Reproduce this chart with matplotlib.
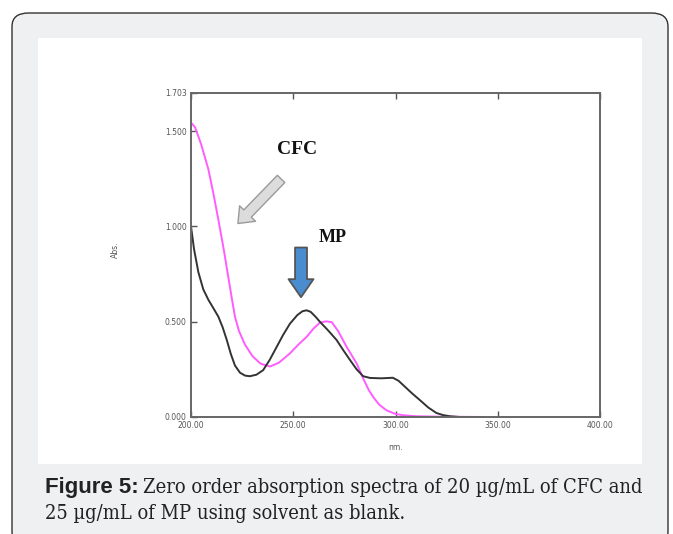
import numpy as np
import matplotlib
matplotlib.use("Agg")
from matplotlib import pyplot as plt
from matplotlib.patches import FancyBboxPatch, Rectangle, FancyArrowPatch

# CFC spectrum (magenta)
cfc_nm = [200.0, 202.0, 205.0, 208.5, 211.0, 213.3, 216.0, 218.2, 220.0, 221.5, 223.5,
          226.4, 230.0, 234.0, 238.6, 243.0, 248.4, 252.5, 256.5, 260.0, 263.0, 266.0,
          268.8, 272.0, 276.1, 281.0, 284.2, 287.0, 289.1, 292.0, 295.6, 300.0, 303.8,
          310.0, 320.0, 343.0]
cfc_abs = [1.545, 1.52, 1.43, 1.30, 1.17, 1.04, 0.88, 0.737, 0.62, 0.526, 0.45,
           0.38, 0.32, 0.28, 0.265, 0.285, 0.334, 0.38, 0.42, 0.465, 0.495, 0.502,
           0.498, 0.45, 0.368, 0.281, 0.202, 0.14, 0.105, 0.065, 0.035, 0.016, 0.009,
           0.004, 0.002, 0.0]

# MP spectrum (black)
mp_nm = [200.0, 201.5, 203.6, 206.0, 208.5, 211.0, 213.4, 215.5, 217.5, 219.5, 221.5,
         224.0, 226.5, 228.8, 232.0, 235.3, 238.5, 241.9, 245.0, 248.4, 252.0, 254.5,
         256.5, 258.5, 261.0, 263.0, 267.0, 271.2, 274.5, 277.7, 281.0, 284.2, 287.5,
         293.0, 298.7, 301.5, 303.8, 308.0, 312.0, 316.0, 320.0, 323.3, 326.6, 331.5]
mp_abs = [1.00, 0.88, 0.76, 0.67, 0.615, 0.57, 0.526, 0.47, 0.404, 0.33, 0.27,
          0.232, 0.217, 0.214, 0.222, 0.246, 0.30, 0.368, 0.43, 0.49, 0.535, 0.555,
          0.56, 0.552, 0.525, 0.50, 0.455, 0.404, 0.35, 0.30, 0.25, 0.214, 0.205,
          0.203, 0.206, 0.19, 0.167, 0.125, 0.088, 0.05, 0.021, 0.01, 0.004, 0.0]

x_ticks = [200, 250, 300, 350, 400]
x_labels = ["200.00", "250.00", "300.00", "350.00", "400.00"]
y_ticks = [0.0, 0.5, 1.0, 1.5, 1.703]
y_labels = ["0.000", "0.500", "1.000", "1.500", "1.703"]

W, H = 673, 534
fig = plt.figure(figsize=(W / 100, H / 100), dpi=100)

def fx(px):
    return px / W

def fy(py):
    return 1 - py / H

# grey card with dark border and rounded corners
card = FancyBboxPatch((fx(12), fy(545)), fx(656), (545 - 13) / H,
                      boxstyle="round,pad=0,rounding_size=0.025",
                      transform=fig.transFigure, facecolor="#eff0f2",
                      edgecolor="#333333", linewidth=1.0, zorder=0)
fig.patches.append(card)
# white panel holding the chart
panel = Rectangle((fx(38), fy(464)), fx(604), (464 - 38) / H,
                  transform=fig.transFigure, facecolor="white",
                  edgecolor="none", zorder=0.5)
fig.patches.append(panel)

ax = fig.add_axes([fx(191), fy(417), fx(409), (417 - 92.5) / H])
ax.set_zorder(2)
ax.set_facecolor("white")
ax.plot(cfc_nm, cfc_abs, color="#ff5cff", lw=1.4, solid_capstyle="round")
ax.plot(mp_nm, mp_abs, color="#333333", lw=1.4, solid_capstyle="round")

ax.set_xlim(200, 400)
ax.set_ylim(0, 1.703)
ax.set_xticks(x_ticks, x_labels)
ax.set_yticks(y_ticks, y_labels)
ax.tick_params(direction="in", length=4, width=1, color="#555555",
               labelsize=5.5, labelcolor="#555555", top=True, pad=3)
for s in ax.spines.values():
    s.set_color("#666666")
    s.set_linewidth(1.4)
ax.set_xlabel("nm.", fontsize=5.5, color="#555555")
ax.xaxis.set_label_coords(0.5, -(443 - 417) / 324.5)
ax.set_ylabel("Abs.", fontsize=5.5, color="#555555")
ax.yaxis.set_label_coords(-(191 - 120) / 409, (417 - 250) / 324.5)

# annotations
ax.text(252.1, 1.404, "CFC", family="Liberation Serif", weight="bold",
        fontsize=14, ha="center", va="center", color="#111111")
ax.add_patch(FancyArrowPatch((245.0, 1.26), (222.0, 1.005),
                             arrowstyle="simple,head_width=1.6,head_length=1.0,tail_width=0.75",
                             mutation_scale=10, facecolor="#dcdcdc",
                             edgecolor="#9a9a9a", lw=1.0))
ax.text(269.4, 0.94, "MP", family="Liberation Serif", weight="bold",
        fontsize=13, ha="center", va="center", color="#111111")
ax.add_patch(FancyArrowPatch((253.8, 0.904), (253.8, 0.614),
                             arrowstyle="simple,head_width=1.8,head_length=1.3,tail_width=0.86",
                             mutation_scale=10, facecolor="#4a8cd0",
                             edgecolor="#555555", lw=1.3))

# caption
fig.text(fx(45), fy(493), "Figure 5:", family="Liberation Sans", weight="bold",
         fontsize=16, color="#222222", va="baseline")
fig.text(fx(143), fy(493), "Zero order absorption spectra of 20 \u00b5g/mL of CFC and",
         family="DejaVu Serif", fontstretch="condensed", fontsize=14.4,
         color="#222222", va="baseline")
fig.text(fx(45), fy(519), "25 \u00b5g/mL of MP using solvent as blank.",
         family="DejaVu Serif", fontstretch="condensed", fontsize=14.4,
         color="#222222", va="baseline")

fig.savefig("out.png", dpi=100)
